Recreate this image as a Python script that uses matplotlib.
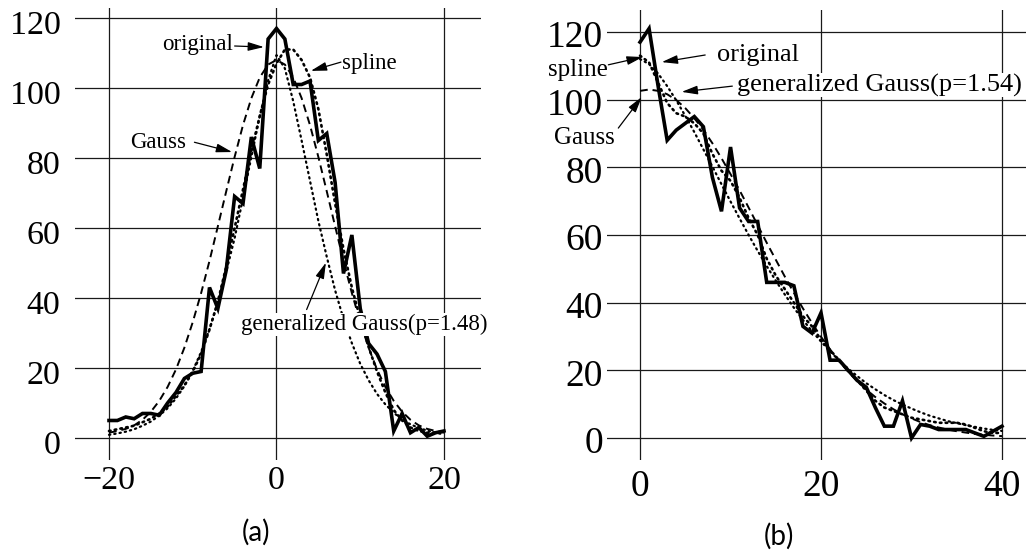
import matplotlib
matplotlib.use("Agg")
import matplotlib.pyplot as plt
from matplotlib.transforms import ScaledTranslation

# ---- panel (a) ----
xa = list(range(-20, 21))
orig_a = [5, 5, 6, 5.5, 7, 7, 6.5, 10, 13, 17, 18.5, 19, 43, 37, 48, 69, 67, 86, 77, 114,
          117,
          114, 101, 101, 102, 85, 87, 73, 47, 58, 37, 27, 24, 19, 2, 7, 1.5, 3, 0.5, 1.5, 2]
gauss_a = [1.5, 2.0, 2.6, 3.6, 5.2, 7.5, 10.6, 14.6, 19.6, 25.8, 33.1, 41.4, 50.6, 60.5, 70.5,
           80.3, 89.4, 97.1, 103.0, 106.7,
           108,
           106.7, 103.0, 97.1, 89.4, 80.3, 70.5, 60.5, 50.6, 41.4, 33.1, 25.8, 19.6, 14.6, 10.6,
           7.5, 5.2, 3.6, 2.6, 2.0, 1.5]
ggauss_a = [0.9, 1.3, 1.8, 2.5, 3.5, 4.7, 6.4, 8.5, 11.3, 14.8, 19.2, 24.6, 31.1, 38.8, 47.5,
            57.1, 68.5, 80.3, 91.9, 102.2,
            109.4,
            105.6, 96.2, 85.0, 73.5, 62.0, 51.8, 42.2, 34.0, 27.1, 21.2, 16.5, 12.6, 9.6, 7.2,
            5.3, 3.9, 2.9, 2.1, 1.5, 1.0]
spline_a = [2, 2.5, 3, 3.5, 4.5, 5.5, 7, 9, 12, 15, 19, 24, 31, 39, 49, 60, 71, 82, 92, 101,
            107,
            111, 111, 108, 103, 94, 81, 67, 54, 43, 34, 26, 19, 13, 8, 5, 3, 2, 1.5, 1.5, 1.5]

# ---- panel (b) ----
xb = list(range(0, 41))
orig_b = [117, 121, 104, 88, 91, 93, 95, 92, 77, 67, 86, 68, 64, 64, 46, 46, 46, 45, 33, 31,
          37, 23, 23, 20, 17, 15, 9, 3.5, 3.5, 11, 0, 4, 3.5, 2.5, 2.5, 2.5, 2.5, 1.5, 0.5, 2, 3.5]
gauss_b = [102.6, 103, 102.6, 101.6, 99.9, 97.5, 94.5, 91.1, 87.1, 82.7, 78.0, 73.2, 68.1, 62.9,
           57.7, 52.7, 47.7, 42.9, 38.3, 34.0, 29.9, 26.2, 22.7, 19.6, 16.8, 14.3, 12.1, 10.2,
           8.5, 7.0, 5.8, 4.7, 3.8, 3.1, 2.5, 2.0, 1.6, 1.2, 0.95, 0.73, 0.56]
ggauss_b = [112, 110.5, 107.7, 104.0, 99.8, 95.2, 90.4, 85.3, 80.2, 75.0, 69.9, 64.9, 60.0, 55.3,
            50.8, 46.5, 42.4, 38.5, 34.9, 31.6, 28.5, 25.6, 22.9, 20.5, 18.3, 16.2, 14.4, 12.7,
            11.2, 9.9, 8.7, 7.6, 6.6, 5.8, 5.0, 4.4, 3.8, 3.3, 2.8, 2.4, 2.1]
spline_b = [113, 111, 105, 99, 96, 95, 93, 90, 84, 79, 76, 71, 65, 60, 53, 48, 44, 40, 36, 33,
            29, 26, 23, 20, 17, 14, 11, 9, 8, 7, 6, 5.5, 5, 4.5, 4.5, 4.5, 4, 3, 2, 1.5, 1.5]

yticks = [0, 20, 40, 60, 80, 100, 120]
xticks_a = [-20, 0, 20]
xlabels_a = ["\u221220", "0", "20"]
xticks_b = [0, 20, 40]
xlabels_b = ["0", "20", "40"]

plt.rcParams['font.family'] = ['Liberation Serif', 'DejaVu Serif']

fig = plt.figure(figsize=(10.26, 5.53), dpi=100)
axa = fig.add_axes([75 / 1026, 1 - 460 / 553, 406 / 1026, 452 / 553])
axb = fig.add_axes([607 / 1026, 1 - 460 / 553, 419 / 1026, 450 / 553])


def draw_curves(ax, x, orig, gauss, ggauss, spline):
    ax.plot(x, gauss, color='black', lw=1.4, linestyle=(0, (4, 2.5)))
    ax.plot(x, spline, color='black', lw=1.9, linestyle=(0, (0.6, 1.6)), dash_capstyle='round')
    ax.plot(x, ggauss, color='black', lw=1.6, linestyle=(0, (0.6, 1.8)), dash_capstyle='round')
    ax.plot(x, orig, color='black', lw=2.6, solid_joinstyle='miter')


def style(ax, xt, xl, fs, ypad, xpad, ydrop):
    for s in ax.spines.values():
        s.set_visible(False)
    ax.set_xticks(xt, xl)
    ax.set_yticks(yticks)
    ax.grid(True, color='#1a1a1a', lw=0.9)
    ax.tick_params(length=0, labelsize=fs)
    ax.tick_params(axis='y', pad=ypad)
    ax.tick_params(axis='x', pad=xpad)
    # labels in the scan sit a few pixels below their grid lines
    shift = ScaledTranslation(0, -ydrop / 100, fig.dpi_scale_trans)
    for lab in ax.get_yticklabels():
        lab.set_transform(lab.get_transform() + shift)


arrow = dict(arrowstyle='-|>,head_length=0.8,head_width=0.22', color='black', lw=0.9,
             mutation_scale=12, shrinkA=0, shrinkB=0)
box = dict(facecolor='white', edgecolor='none', pad=0.5)

# panel (a)
draw_curves(axa, xa, orig_a, gauss_a, ggauss_a, spline_a)
axa.set_xlim(-24.06, 24.42)
axa.set_ylim(-6.29, 122.86)
style(axa, xticks_a, xlabels_a, 24.5, 10.5, 4, 4)

fa = 16.5
axa.text(-5.2, 112.3, "original", fontsize=fa, ha='right', va='center', bbox=box)
axa.annotate('', xy=(-1.5, 111.7), xytext=(-5.0, 112.0), arrowprops=arrow)
axa.text(7.8, 106.9, "spline", fontsize=fa, ha='left', va='center', bbox=box)
axa.annotate('', xy=(4.1, 104.9), xytext=(7.7, 107.4), arrowprops=arrow)
axa.text(-14.1, 84.5, "Gauss", fontsize=fa, ha='center', va='center', bbox=box)
axa.annotate('', xy=(-5.3, 81.7), xytext=(-9.8, 84.5), arrowprops=arrow)
axa.text(-4.2, 32.4, "generalized Gauss(p=1.48)", fontsize=fa, ha='left', va='center',
         bbox=box)
axa.annotate('', xy=(5.9, 50.1), xytext=(3.6, 36.7), arrowprops=arrow)

# panel (b)
draw_curves(axb, xb, orig_b, gauss_b, ggauss_b, spline_b)
axb.set_xlim(-3.65, 42.65)
axb.set_ylim(-6.5, 126.5)
style(axb, xticks_b, xlabels_b, 27, 3, 7, 2)

fb = 19
axb.text(8.5, 113.2, "original", fontsize=fb, ha='left', va='center', bbox=box)
axb.annotate('', xy=(2.4, 111.1), xytext=(7.2, 113.2), arrowprops=arrow)
axb.text(10.7, 104.3, "generalized Gauss(p=1.54)", fontsize=fb, ha='left', va='center',
         bbox=box, clip_on=False)
axb.annotate('', xy=(4.6, 102.3), xytext=(10.2, 104.0), arrowprops=arrow)
axb.text(-3.6, 108.8, "spline", fontsize=18, ha='right', va='center', bbox=box)
axb.annotate('', xy=(0.3, 112.6), xytext=(-3.5, 110.3), arrowprops=arrow,
             annotation_clip=False)
axb.text(-2.8, 88.7, "Gauss", fontsize=18, ha='right', va='center', bbox=box)
axb.annotate('', xy=(0.2, 100.8), xytext=(-2.4, 91.6), arrowprops=arrow,
             annotation_clip=False)

fig.text(256 / 1026, 1 - 532 / 553, "(a)", family='Lato', fontsize=20, ha='center', va='center')
fig.text(779 / 1026, 1 - 536 / 553, "(b)", family='Lato', fontsize=20, ha='center', va='center')

plt.savefig("out.png", dpi=100)
plt.close()
